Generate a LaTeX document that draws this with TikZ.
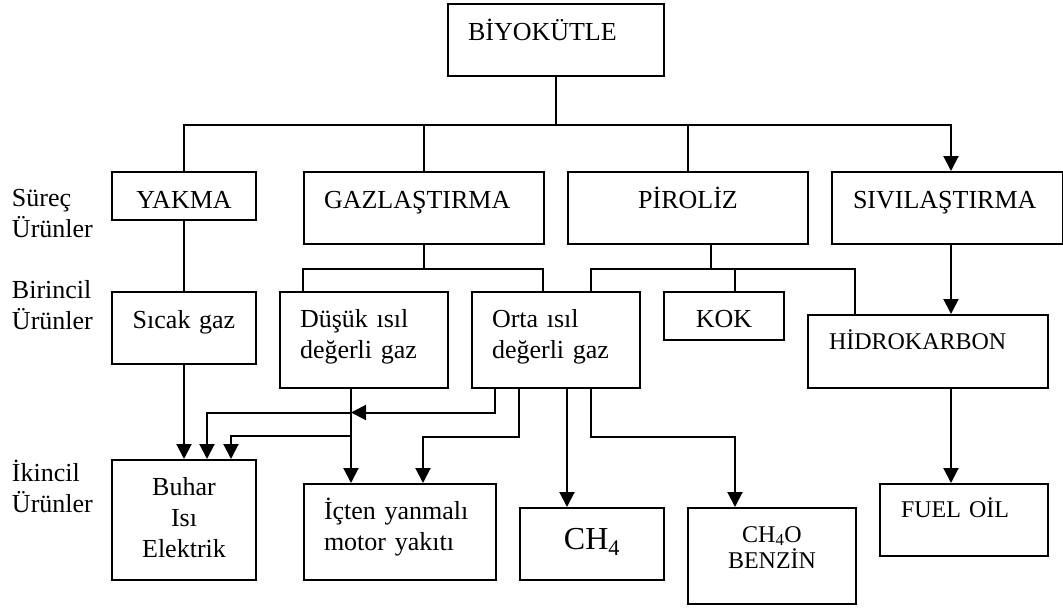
\documentclass[tikz,border=0pt]{standalone}
\usepackage{fontspec}
\setmainfont{Liberation Serif}
\usetikzlibrary{arrows.meta}

\begin{document}
\begin{tikzpicture}[x=1pt, y=-1pt, line width=2pt, >={Triangle[length=15pt,width=15pt]},
  font=\fontsize{26pt}{31pt}\selectfont,
  kutu/.style={draw, anchor=north west, inner ysep=0pt, inner xsep=20pt, align=left, text height=36pt},
  ortali/.style={inner xsep=0pt, align=center},
  kucuk/.style={font=\fontsize{24pt}{26pt}\selectfont},
  etiket/.style={anchor=north west, inner sep=0pt, text width=100pt, align=left, text height=20pt}]
   \useasboundingbox (0,0) rectangle (1063,608);

   \node[etiket] (surec) at (11,185) {Süreç\\Ürünler};
   \node[etiket] (birincil) at (11,277) {Birincil\\Ürünler};
   \node[etiket] (ikincil) at (11,460) {İkincil\\Ürünler};

   \node[kutu, text width=176pt, text depth=36pt] (biyo) at (447,3) {BİYOKÜTLE};
   \node[kutu, ortali, text width=144pt, text depth=12pt] (yakma) at (111,171) {YAKMA};
   \node[kutu, text width=200pt, text depth=36pt] (gaz) at (303,171) {GAZLAŞTIRMA};
   \node[kutu, ortali, text width=240pt, text depth=36pt] (piroliz) at (567,171) {PİROLİZ};
   \node[kutu, inner xsep=21pt, text width=189pt, text depth=36pt] (siv) at (831,171) {SIVILAŞTIRMA};
   \node[kutu, ortali, text width=144pt, text depth=36pt] (sicak) at (111,291) {Sıcak gaz};
   \node[kutu, text width=128pt, text height=35pt, text depth=61pt] (dusuk) at (279,291) {Düşük ısıl\\değerli gaz};
   \node[kutu, text width=128pt, text height=35pt, text depth=61pt] (orta) at (471,291) {Orta ısıl\\değerli gaz};
   \node[kutu, ortali, text width=120pt, text height=35pt, text depth=13pt] (kok) at (663,291) {KOK};
   \node[kutu, kucuk, inner xsep=21pt, text width=198pt, text height=34pt, text depth=39pt] (hidro) at (807,314) {HİDROKARBON};
   \node[kutu, ortali, text width=144pt, text height=35pt, text depth=85pt] (buhar) at (111,459) {Buhar\\Isı\\Elektrik};
   \node[kutu, text width=152pt, text height=35pt, text depth=61pt] (icten) at (303,483) {İçten yanmalı\\motor yakıtı};
   \node[kutu, ortali, font=\fontsize{32pt}{36pt}\selectfont, text width=144pt, text height=41pt, text depth=31pt] (ch4) at (519,507) {CH\textsubscript{4}};
   \node[kutu, ortali, kucuk, text width=168pt, text height=34pt, text depth=62pt] (ch4o) at (687,507) {CH\textsubscript{4}O\\BENZİN};
   \node[kutu, kucuk, inner xsep=21pt, text width=126pt, text height=33pt, text depth=39pt] (fuel) at (879,483) {FUEL OİL};

   \draw (biyo.south) -- ++(0,48) coordinate (bus);
   \draw (yakma.north) |- (bus) -| (gaz.north);
   \draw (bus) -| (piroliz.north);
   \draw[->] (bus) -| ([xshift=120pt]siv.north west);

   \draw (yakma) -- (sicak);
   \draw[->] (sicak) -- (buhar);

   \draw (gaz.south) -- ++(0,24) coordinate (gbus);
   \draw ([xshift=24pt]dusuk.north west) |- (gbus) -| ([xshift=72pt]orta.north west);
   \draw ([xshift=144pt]piroliz.south west) -- ++(0,24) coordinate (pbus);
   \draw ([xshift=120pt]orta.north west) |- (pbus) -| ([xshift=48pt]hidro.north west);
   \draw ([xshift=72pt]kok.north west) -- ([xshift=72pt]kok.north west |- pbus);
   \draw[->] ([xshift=120pt]siv.south west) -- ([xshift=144pt]hidro.north west);
   \draw[->] ([xshift=144pt]hidro.south west) -- ([xshift=72pt]fuel.north west);

   \draw[->] ([xshift=72pt]dusuk.south west) -- coordinate[pos=.25] (d1) coordinate[pos=.5] (d2) ([xshift=48pt]icten.north west);
   \draw[->] (d2) -| ([xshift=120pt]buhar.north west);
   \draw[->] ([xshift=24pt]orta.south west) |- (d1);
   \draw[->] (d1) -| ([xshift=96pt]buhar.north west);
   \draw[->] ([xshift=48pt]orta.south west) -- ++(0,48) -| ([xshift=120pt]icten.north west);
   \draw[->] ([xshift=96pt]orta.south west) -- ([xshift=48pt]ch4.north west);
   \draw[->] ([xshift=120pt]orta.south west) -- ++(0,48) -| ([xshift=48pt]ch4o.north west);
\end{tikzpicture}
\end{document}
